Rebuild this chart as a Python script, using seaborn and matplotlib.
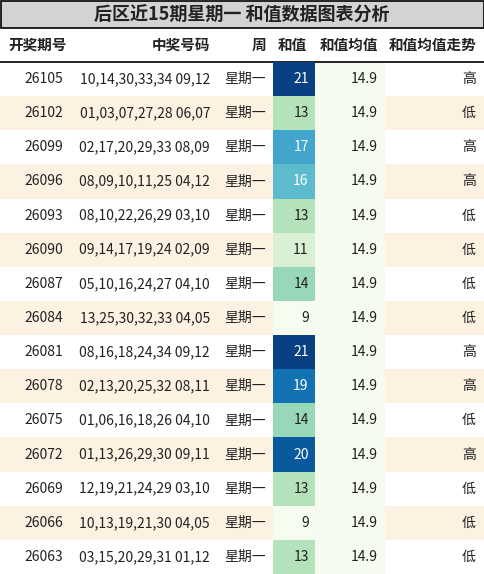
import matplotlib
matplotlib.use("Agg")
import matplotlib.pyplot as plt
import seaborn as sns
import numpy as np
from matplotlib.patches import Rectangle

sns.set_theme(style="white")
plt.rcParams['font.family'] = ['Noto Sans CJK SC', 'DejaVu Sans']

title = "后区近15期星期一 和值数据图表分析"
headers = ["开奖期号", "中奖号码", "周", "和值", "和值均值", "和值均值走势"]
periods = ["26105","26102","26099","26096","26093","26090","26087","26084","26081","26078","26075","26072","26069","26066","26063"]
numbers = ["10,14,30,33,34 09,12","01,03,07,27,28 06,07","02,17,20,29,33 08,09","08,09,10,11,25 04,12",
           "08,10,22,26,29 03,10","09,14,17,19,24 02,09","05,10,16,24,27 04,10","13,25,30,32,33 04,05",
           "08,16,18,24,34 09,12","02,13,20,25,32 08,11","01,06,16,18,26 04,10","01,13,26,29,30 09,11",
           "12,19,21,24,29 03,10","10,13,19,21,30 04,05","03,15,20,29,31 01,12"]
weekday = "星期一"
sums = [21,13,17,16,13,11,14,9,21,19,14,20,13,9,13]
mean_val = 14.9
trend = ["高","低","高","高","低","低","低","低","高","高","低","高","低","低","低"]

W, H = 484, 574
fig = plt.figure(figsize=(W/100, H/100), dpi=100)
ax = fig.add_axes([0, 0, 1, 1])
ax.set_xlim(0, W); ax.set_ylim(H, 0); ax.axis('off')

top_h = 28
head_b = 62
rh = (H - head_b) / len(periods)

ax.add_patch(Rectangle((0.5, 0.5), W-1, top_h-1, facecolor="#d3d3d3", edgecolor="black", lw=1.2))
ax.text(W/2, top_h/2+1, title, ha="center", va="center", fontsize=13, fontweight="bold", color="#222")

hx = [8, 210, 266, 307, 378, 476]
has = ["left", "right", "right", "right", "right", "right"]
for x, a, t in zip(hx, has, headers):
    ax.text(x, (top_h+head_b)/2, t, ha=a, va="center", fontsize=10.5, fontweight="bold", color="#222")
ax.plot([0, W], [head_b, head_b], color="black", lw=1.2)

for i in range(len(periods)):
    y0 = head_b + i*rh
    yc = y0 + rh/2
    bg = "white" if i % 2 == 0 else "#fdf1e1"
    ax.add_patch(Rectangle((0, y0), W, rh, facecolor=bg, edgecolor="none", zorder=0))
    ax.add_patch(Rectangle((315, y0), 70, rh, facecolor="#f5fbef", edgecolor="none", zorder=0.5))
    ax.text(63, yc, periods[i], ha="right", va="center", fontsize=10, color="#222")
    ax.text(210, yc, numbers[i], ha="right", va="center", fontsize=10, color="#222")
    ax.text(266, yc, weekday, ha="right", va="center", fontsize=10, color="#222")
    ax.text(378, yc, f"{mean_val}", ha="right", va="center", fontsize=10, color="#222")
    ax.text(476, yc, trend[i], ha="right", va="center", fontsize=10, color="#222")

hax = fig.add_axes([273/W, 0, (315-273)/W, (H-head_b)/H])
arr = np.array(sums).reshape(-1, 1)
sns.heatmap(arr, ax=hax, cmap="GnBu", vmin=9, vmax=21, cbar=False, xticklabels=False, yticklabels=False)
for i, v in enumerate(sums):
    hax.text(0.85, i+0.5, str(v), ha="right", va="center", fontsize=10,
             color="white" if v >= 16 else "#222")
hax.axis('off')

fig.savefig("out.png", dpi=100)
